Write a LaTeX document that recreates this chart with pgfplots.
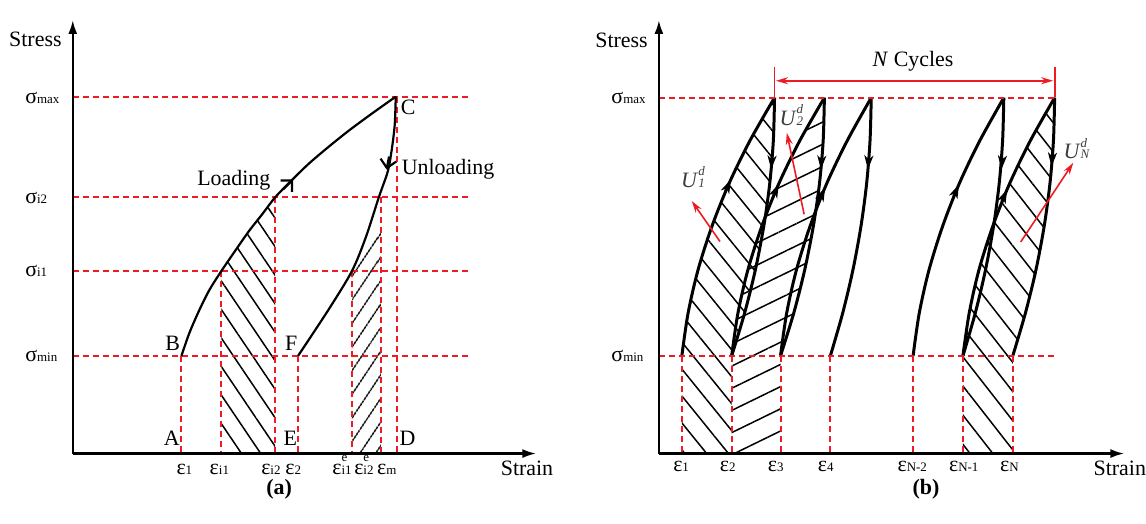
\documentclass[border=0pt]{standalone}
\usepackage{pgfplots}
\pgfplotsset{compat=1.18}
\usepgfplotslibrary{fillbetween}
\usepackage{fontspec}
\setmainfont{Liberation Serif}
\usetikzlibrary{arrows.meta,patterns.meta}

\definecolor{dashred}{RGB}{237,28,36}
\definecolor{ulab}{RGB}{60,60,60}

\newcommand{\lab}[1]{{\fontsize{6.5}{7}\selectfont #1}}
\newcommand{\sig}[1]{σ\lab{#1}}
\newcommand{\eps}[1]{ε\lab{#1}}
\newcommand{\epse}[1]{ε\makebox[0pt][l]{\raisebox{6.5pt}{\lab{e}}}\lab{#1}}
\newcommand{\Ud}[1]{\textit{U}\makebox[0pt][l]{\raisebox{6pt}{\lab{\textit{d}}}}\lab{\textit{#1}}}

\tikzset{
  guide/.style={dashred, line width=1pt, dash pattern=on 3pt off 2pt},
  axisline/.style={black, line width=1.2pt, -{Latex[length=7pt,width=4.5pt]}},
  curveA/.style={black, line width=1.1pt},
  curveB/.style={black, line width=1.5pt},
  tipA/.style={black, line width=1.1pt, -{Straight Barb[length=4pt,width=8pt]}},
  tipB/.style={black, line width=1.2pt, -{Stealth[length=7pt,width=4.5pt,inset=2pt]}},
  redarrow/.style={dashred, line width=0.8pt, -{Stealth[length=6pt,width=3.5pt]}},
}

\begin{document}
\begin{tikzpicture}[font=\fontsize{11}{13}\selectfont]
\begin{axis}[
  width=573pt, height=262.5pt, scale only axis,
  xmin=0, xmax=1146, ymin=0, ymax=525, y dir=reverse,
  hide axis, clip=false,
]
% frame of the whole figure
\addplot[draw=none] coordinates {(0,0) (1146,525)};

% ================= (a) single loading/unloading cycle =================
% hatched energy areas
\addplot[draw=none, pattern={Lines[angle=-56,distance=8pt,line width=0.75pt]}]
  coordinates {(222,455) (222,272) (236,251.5) (250,231.5) (263,215) (276,198) (276,455)} -- cycle;
\addplot[draw=none, pattern={Lines[angle=56,distance=6.5pt,line width=0.75pt]}]
  coordinates {(353,455) (353,272) (368,246) (382,222) (382,455)} -- cycle;

% stress levels
\addplot[guide] coordinates {(73,97) (470,97)};
\addplot[guide] coordinates {(73,198) (470,198)};
\addplot[guide] coordinates {(73,272) (470,272)};
\addplot[guide] coordinates {(73,357) (470,357)};
% strain levels
\addplot[guide] coordinates {(182,357) (182,455)};
\addplot[guide] coordinates {(222,272) (222,455)};
\addplot[guide] coordinates {(276,198) (276,455)};
\addplot[guide] coordinates {(299,357) (299,455)};
\addplot[guide] coordinates {(353,272) (353,455)};
\addplot[guide] coordinates {(382,198) (382,455)};
\addplot[guide] coordinates {(398,97) (398,455)};

% loading B -> C
\addplot[curveA, smooth] coordinates {(182,357) (190,334) (200,311) (210,291) (222,272) (236,251.5) (250,231.5) (263,215) (276,198) (293,180.5) (310,164) (330,147) (350,131) (373,114) (397,97)};
% unloading C -> F
\addplot[curveA, smooth] coordinates {(397,97) (396,125) (393,150) (389,172) (380,198) (367,238) (353,272) (330,310) (299,357)};
\addplot[tipA] coordinates {(284.3,189.8) (294,180)};
\addplot[tipA] coordinates {(390.3,157) (387.8,170)};

% axes
\addplot[axisline] coordinates {(73,455) (73,20)};
\addplot[axisline] coordinates {(73,455) (538,455)};

% labels
\node at (axis cs:35.5,39) {Stress};
\node[anchor=base west, inner sep=0pt] at (axis cs:502,477) {Strain};
\node[anchor=west, inner sep=0pt] at (axis cs:25,98) {\sig{max}};
\node[anchor=west, inner sep=0pt] at (axis cs:25,198.5) {\sig{i2}};
\node[anchor=west, inner sep=0pt] at (axis cs:25,271.5) {\sig{i1}};
\node[anchor=west, inner sep=0pt] at (axis cs:25,357) {\sig{min}};
\node[anchor=base west, inner sep=0pt] at (axis cs:176.7,476) {\eps{1}};
\node[anchor=base west, inner sep=0pt] at (axis cs:210,476) {\eps{i1}};
\node[anchor=base west, inner sep=0pt] at (axis cs:261.7,476) {\eps{i2}};
\node[anchor=base west, inner sep=0pt] at (axis cs:286,476) {\eps{2}};
\node[anchor=base west, inner sep=0pt] at (axis cs:333,476) {\epse{i1}};
\node[anchor=base west, inner sep=0pt] at (axis cs:355,476) {\epse{i2}};
\node[anchor=base west, inner sep=0pt] at (axis cs:378,476) {\eps{m}};
\node[anchor=base west, inner sep=0pt] at (axis cs:164,447) {A};
\node[anchor=base west, inner sep=0pt] at (axis cs:284,447) {E};
\node[anchor=base west, inner sep=0pt] at (axis cs:400.5,447) {D};
\node[anchor=base west, inner sep=0pt] at (axis cs:165.4,351.7) {B};
\node[anchor=base west, inner sep=0pt] at (axis cs:285.7,351.7) {F};
\node[anchor=base west, inner sep=0pt] at (axis cs:401.7,115) {C};
\node[anchor=base west, inner sep=0pt] at (axis cs:197.5,186) {Loading};
\node[anchor=base west, inner sep=0pt] at (axis cs:402.7,175) {Unloading};
\node at (axis cs:280,490.5) {\textbf{(a)}};

% ================= (b) repeated cycles =================
% cycle curves (named for the hatched loops)
\addplot[curveB, smooth, name path=L1] coordinates {(684,357) (690.3,314) (700.2,271) (714.2,227) (731.4,184) (752.4,141) (777,98)};
\addplot[curveB, smooth, name path=U1] coordinates {(777,98) (775.8,141) (772.2,184) (766.2,227) (757.7,271) (747,314) (734,357)};
\addplot[curveB, smooth, name path=L2] coordinates {(734,357) (740.3,314) (750.2,271) (764.2,227) (781.4,184) (802.4,141) (827,98)};
\addplot[curveB, smooth, name path=U2] coordinates {(827,98) (825.8,141) (822.1,184) (815.9,227) (807.2,271) (796.3,314) (783,357)};
\addplot[curveB, smooth] coordinates {(783,357) (789.2,314) (798.9,271) (812.6,227) (829.4,184) (850,141) (874,98)};
\addplot[curveB, smooth] coordinates {(874,98) (872.8,141) (869.4,184) (863.7,227) (855.6,271) (845.4,314) (833,357)};
\addplot[curveB, smooth] coordinates {(916,357) (922.2,314) (931.9,271) (945.6,227) (962.4,184) (983,141) (1007,98)};
\addplot[curveB, smooth] coordinates {(1007,98) (1005.8,141) (1002.4,184) (996.7,227) (988.6,271) (978.4,314) (966,357)};
\addplot[curveB, smooth, name path=LN] coordinates {(966,357) (972.3,314) (982,271) (995.9,227) (1012.9,184) (1033.7,141) (1058,98)};
\addplot[curveB, smooth, name path=UN] coordinates {(1058,98) (1056.8,141) (1053.3,184) (1047.5,227) (1039.2,271) (1028.7,314) (1016,357)};

% hatched dissipated energy of cycles 1, 2 and N
\addplot[draw=none, pattern={Lines[angle=-51,distance=8.5pt,line width=0.75pt]}] fill between[of=L1 and U1];
\addplot[draw=none, pattern={Lines[angle=-51,distance=8.5pt,line width=0.75pt]}]
  coordinates {(684,357) (734,357) (734,455) (684,455)} -- cycle;
\addplot[draw=none, pattern={Lines[angle=26,distance=10pt,line width=0.75pt]}] fill between[of=L2 and U2];
\addplot[draw=none, pattern={Lines[angle=26,distance=10pt,line width=0.75pt]}]
  coordinates {(734,357) (783,357) (783,455) (734,455)} -- cycle;
\addplot[draw=none, pattern={Lines[angle=-52,distance=9pt,line width=0.75pt]}] fill between[of=LN and UN];
\addplot[draw=none, pattern={Lines[angle=-52,distance=9pt,line width=0.75pt]}]
  coordinates {(966,357) (1016,357) (1016,455) (966,455)} -- cycle;

% stress and strain levels
\addplot[guide] coordinates {(661,98) (1059,98)};
\addplot[guide] coordinates {(661,357) (1059,357)};
\addplot[guide] coordinates {(684,357) (684,455)};
\addplot[guide] coordinates {(734,357) (734,455)};
\addplot[guide] coordinates {(783,357) (783,455)};
\addplot[guide] coordinates {(833,357) (833,455)};
\addplot[guide] coordinates {(916,357) (916,455)};
\addplot[guide] coordinates {(966,357) (966,455)};
\addplot[guide] coordinates {(1016,357) (1016,455)};

% direction marks
\addplot[tipB] coordinates {(727.8,191.8) (733.2,180)};
\addplot[tipB] coordinates {(774.4,158) (773.6,170)};
\addplot[tipB] coordinates {(775.9,196.4) (781.2,184.5)};
\addplot[tipB] coordinates {(824.3,158) (823.5,170)};
\addplot[tipB] coordinates {(822.4,199.9) (827.7,188)};
\addplot[tipB] coordinates {(871.5,158) (870.7,170)};
\addplot[tipB] coordinates {(956.7,196.9) (962,185)};
\addplot[tipB] coordinates {(1005.5,158) (1004.7,170)};
\addplot[tipB] coordinates {(1005,201.9) (1010.3,190)};
\addplot[tipB] coordinates {(1055.7,155) (1054.9,167)};

% dissipated energy pointers
\addplot[redarrow] coordinates {(722.3,242.3) (694,201.7)};
\addplot[redarrow] coordinates {(806.7,215) (789.3,133.3)};
\addplot[redarrow] coordinates {(1024,242.7) (1076.7,163.3)};

% N cycles span
\addplot[dashred, line width=0.9pt] coordinates {(777,67) (777,97)};
\addplot[dashred, line width=0.9pt] coordinates {(1058,67) (1058,97)};
\addplot[dashred, line width=0.9pt, {Stealth[length=6pt,width=3.5pt]}-{Stealth[length=6pt,width=3.5pt]}] coordinates {(778.5,81) (1056.5,81)};

% axes
\addplot[axisline] coordinates {(661,455) (661,20)};
\addplot[axisline] coordinates {(661,455) (1128,455)};

% labels
\node at (axis cs:623.5,40) {Stress};
\node[anchor=base west, inner sep=0pt] at (axis cs:1096.7,476.7) {Strain};
\node[anchor=west, inner sep=0pt] at (axis cs:613,98.5) {\sig{max}};
\node[anchor=west, inner sep=0pt] at (axis cs:613,357.5) {\sig{min}};
\node[anchor=base west, inner sep=0pt] at (axis cs:675,473.5) {\eps{1}};
\node[anchor=base west, inner sep=0pt] at (axis cs:721.7,473.5) {\eps{2}};
\node[anchor=base west, inner sep=0pt] at (axis cs:770,473.5) {\eps{3}};
\node[anchor=base west, inner sep=0pt] at (axis cs:820,473.5) {\eps{4}};
\node[anchor=base west, inner sep=0pt] at (axis cs:900,473.5) {\eps{N-2}};
\node[anchor=base west, inner sep=0pt] at (axis cs:951.7,473.5) {\eps{N-1}};
\node[anchor=base west, inner sep=0pt] at (axis cs:1003,473.5) {\eps{N}};
\node at (axis cs:916,61) {\textit{N} Cycles};
\node[anchor=base west, inner sep=0pt, text=ulab] at (axis cs:683,188) {\Ud{1}};
\node[anchor=base west, inner sep=0pt, text=ulab] at (axis cs:781.7,126) {\Ud{2}};
\node[anchor=base west, inner sep=0pt, text=ulab] at (axis cs:1066.7,159.5) {\Ud{N}};
\node at (axis cs:929,490.5) {\textbf{(b)}};
\end{axis}
\end{tikzpicture}
\end{document}
